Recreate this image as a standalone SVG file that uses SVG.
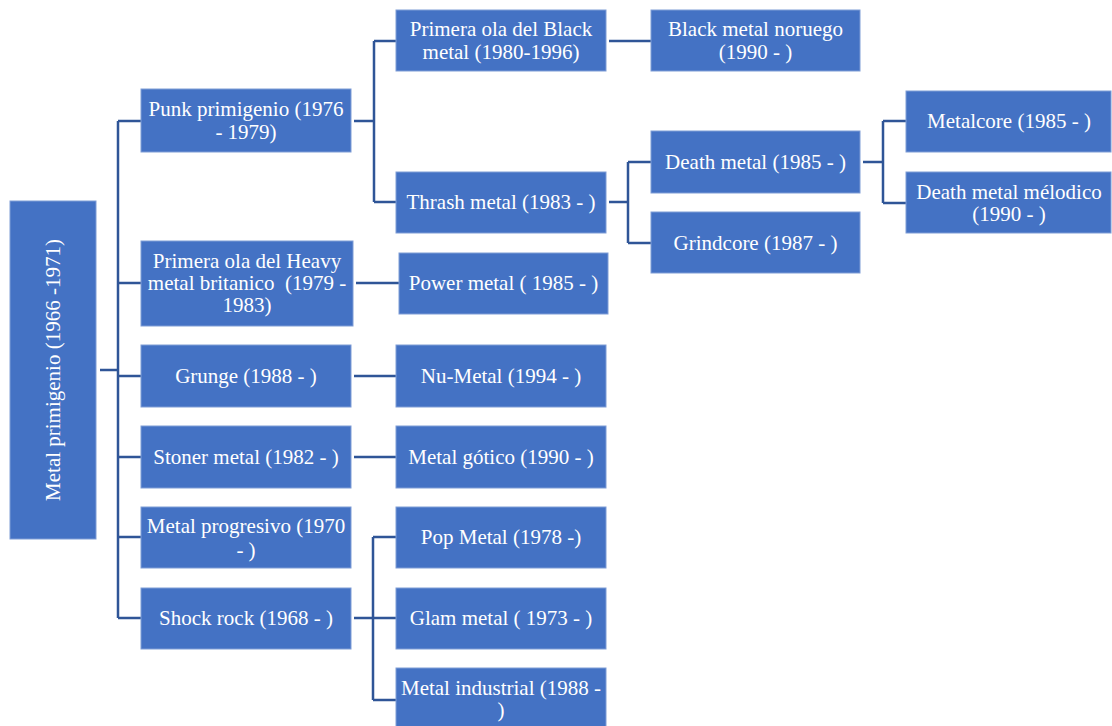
<svg xmlns="http://www.w3.org/2000/svg" width="1112" height="726" viewBox="0 0 1112 726">
<style>
.box{fill:#4472C4;stroke:#7F9DD6;stroke-width:1}
.t{font-family:"Liberation Serif","Times New Roman",serif;font-size:21px;fill:#ffffff;text-anchor:middle}
.c{fill:none;stroke:#2F5597;stroke-width:2.5}
</style>
<rect width="1112" height="726" fill="#ffffff"/>
<g id="connectors">
<path class="c" d="M100,370 H118 M118,121 V618 M118,121 H141 M118,283 H141 M118,376 H141 M118,457 H141 M118,537 H141 M118,618 H141"/>
<path class="c" d="M354,121 H374 M374,41 V202 M374,41 H396 M374,202 H396"/>
<path class="c" d="M609,41 H651"/>
<path class="c" d="M609,202 H628 M628,162 V243 M628,162 H651 M628,243 H651"/>
<path class="c" d="M863,162 H883 M883,121 V203 M883,121 H906 M883,203 H906"/>
<path class="c" d="M356,283 H399"/>
<path class="c" d="M354,376 H396"/>
<path class="c" d="M354,457 H396"/>
<path class="c" d="M354,618 H373 M373,537 V700 M373,537 H396 M373,618 H396 M373,700 H396"/>
</g>
<g id="root"><rect class="box" x="10" y="201" width="86" height="338"/><text class="t" transform="translate(60,370) rotate(-90)">Metal primigenio (1966 -1971)</text></g>
<g id="punk"><rect class="box" x="141" y="89" width="210" height="63"/><text class="t" x="246" y="116">Punk primigenio (1976</text><text class="t" x="246" y="139">- 1979)</text></g>
<g id="heavy"><rect class="box" x="141" y="241" width="212" height="85"/><text class="t" x="247" y="267.5">Primera ola del Heavy</text><text class="t" x="247" y="289.5" xml:space="preserve">metal britanico  (1979 -</text><text class="t" x="247" y="311.5">1983)</text></g>
<g id="grunge"><rect class="box" x="141" y="345" width="210" height="62"/><text class="t" x="246" y="383">Grunge (1988 - )</text></g>
<g id="stoner"><rect class="box" x="141" y="426" width="210" height="62"/><text class="t" x="246" y="464">Stoner metal (1982 - )</text></g>
<g id="progresivo"><rect class="box" x="141" y="507" width="210" height="61"/><text class="t" x="246" y="533">Metal progresivo (1970</text><text class="t" x="246" y="556.5">- )</text></g>
<g id="shock"><rect class="box" x="141" y="588" width="210" height="61"/><text class="t" x="246" y="625">Shock rock (1968 - )</text></g>
<g id="black1"><rect class="box" x="396" y="10" width="210" height="61"/><text class="t" x="501" y="36">Primera ola del Black</text><text class="t" x="501" y="59">metal (1980-1996)</text></g>
<g id="thrash"><rect class="box" x="396" y="172" width="210" height="61"/><text class="t" x="501" y="209">Thrash metal (1983 - )</text></g>
<g id="power"><rect class="box" x="399" y="253" width="209" height="61"/><text class="t" x="503.5" y="290">Power metal ( 1985 - )</text></g>
<g id="numetal"><rect class="box" x="396" y="345" width="210" height="62"/><text class="t" x="501" y="383">Nu-Metal (1994 - )</text></g>
<g id="gotico"><rect class="box" x="396" y="426" width="210" height="62"/><text class="t" x="501" y="464">Metal gótico (1990 - )</text></g>
<g id="pop"><rect class="box" x="396" y="507" width="210" height="61"/><text class="t" x="501" y="544">Pop Metal (1978 -)</text></g>
<g id="glam"><rect class="box" x="396" y="588" width="210" height="61"/><text class="t" x="501" y="625">Glam metal ( 1973 - )</text></g>
<g id="industrial"><rect class="box" x="396" y="668" width="210" height="62"/><text class="t" x="501" y="695">Metal industrial (1988 -</text><text class="t" x="501" y="717">)</text></g>
<g id="noruego"><rect class="box" x="651" y="10" width="209" height="61"/><text class="t" x="755.5" y="36">Black metal noruego</text><text class="t" x="755.5" y="59">(1990 - )</text></g>
<g id="death"><rect class="box" x="651" y="131" width="209" height="62"/><text class="t" x="755.5" y="169">Death metal (1985 - )</text></g>
<g id="grindcore"><rect class="box" x="651" y="212" width="209" height="61"/><text class="t" x="755.5" y="250">Grindcore (1987 - )</text></g>
<g id="metalcore"><rect class="box" x="906" y="91" width="205" height="61"/><text class="t" x="1009" y="128">Metalcore (1985 - )</text></g>
<g id="melodico"><rect class="box" x="906" y="172" width="205" height="61"/><text class="t" x="1009" y="198.5">Death metal mélodico</text><text class="t" x="1009" y="220.5">(1990 - )</text></g>
</svg>
